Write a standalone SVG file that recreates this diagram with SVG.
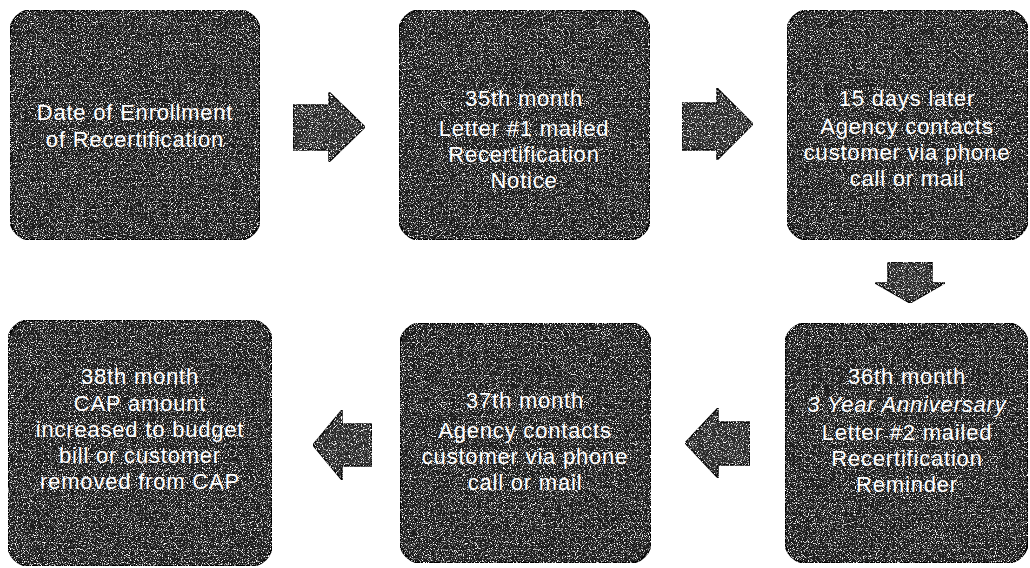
<svg xmlns="http://www.w3.org/2000/svg" width="1030" height="568" viewBox="0 0 1030 568">
<style>
.box{fill:#1c1c1c;stroke:#000;stroke-width:2}
.arr{fill:#2a2a2a;stroke:#000;stroke-width:1.5}
.t{font-family:"Liberation Sans",Arial,sans-serif;font-size:22px;letter-spacing:0.8px;fill:#fff;text-anchor:middle}
.i{font-style:italic}
</style>
<defs>
<filter id="grain" x="0" y="0" width="100%" height="100%" color-interpolation-filters="sRGB">
<feTurbulence type="fractalNoise" baseFrequency="0.85" numOctaves="2" seed="7" result="n"/>
<feColorMatrix in="n" type="matrix" values="0 0 0 0 1  0 0 0 0 1  0 0 0 0 1  5 0 0 0 -2.6" result="w"/>
<feComposite in="w" in2="SourceAlpha" operator="in" result="wc"/>
<feMerge><feMergeNode in="SourceGraphic"/><feMergeNode in="wc"/></feMerge>
</filter>
</defs>
<rect width="1030" height="568" fill="#fff"/>
<g id="n1">
<rect class="box" x="10" y="10" width="250" height="230" rx="22" filter="url(#grain)"/>
<text class="t" x="135" y="120">Date of Enrollment</text>
<text class="t" x="135" y="147">of Recertification</text>
</g>
<g id="n2">
<rect class="box" x="399" y="10" width="251" height="230" rx="22" filter="url(#grain)"/>
<text class="t" x="524" y="106">35th month</text>
<text class="t" x="524" y="136">Letter #1 mailed</text>
<text class="t" x="524" y="162">Recertification</text>
<text class="t" x="524" y="188">Notice</text>
</g>
<g id="n3">
<rect class="box" x="787" y="10" width="241" height="230" rx="22" filter="url(#grain)"/>
<text class="t" x="907" y="106">15 days later</text>
<text class="t" x="907" y="134">Agency contacts</text>
<text class="t" x="907" y="160">customer via phone</text>
<text class="t" x="907" y="186">call or mail</text>
</g>
<g id="n4">
<rect class="box" x="785" y="323" width="243" height="240" rx="22" filter="url(#grain)"/>
<text class="t" x="907" y="384">36th month</text>
<text class="t i" x="907" y="412">3 Year Anniversary</text>
<text class="t" x="907" y="440">Letter #2 mailed</text>
<text class="t" x="907" y="466">Recertification</text>
<text class="t" x="907" y="492">Reminder</text>
</g>
<g id="n5">
<rect class="box" x="400" y="323" width="251" height="240" rx="22" filter="url(#grain)"/>
<text class="t" x="525" y="408">37th month</text>
<text class="t" x="525" y="438">Agency contacts</text>
<text class="t" x="525" y="464">customer via phone</text>
<text class="t" x="525" y="490">call or mail</text>
</g>
<g id="n6">
<rect class="box" x="8" y="320" width="264" height="246" rx="22" filter="url(#grain)"/>
<text class="t" x="140" y="384">38th month</text>
<text class="t" x="140" y="411">CAP amount</text>
<text class="t" x="140" y="437">increased to budget</text>
<text class="t" x="140" y="463">bill or customer</text>
<text class="t" x="140" y="489">removed from CAP</text>
</g>
<g id="connectors">
<polygon class="arr" filter="url(#grain)" points="293,105 329,105 329,92 365,127 329,162 329,150 293,150"/>
<polygon class="arr" filter="url(#grain)" points="682,103 717,103 717,88 753,124 717,160 717,150 682,150"/>
<polygon class="arr" filter="url(#grain)" points="888,262 932,262 932,283 945,283 910,303 875,283 888,283"/>
<polygon class="arr" filter="url(#grain)" points="750,422 718,422 718,408 685,443 718,478 718,465 750,465"/>
<polygon class="arr" filter="url(#grain)" points="372,424 342,424 342,410 313,445 342,480 342,466 372,466"/>
</g>
</svg>
